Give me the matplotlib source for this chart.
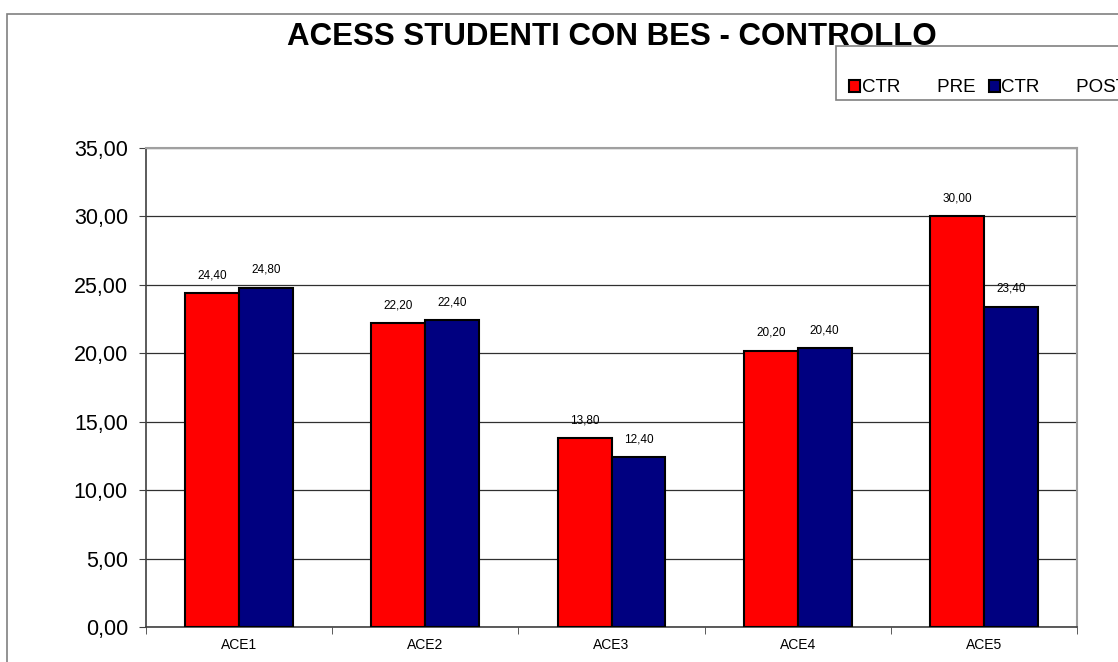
import numpy as np
import matplotlib.pyplot as plt
from matplotlib.patches import Rectangle

plt.rcParams['font.family'] = ['Liberation Sans', 'DejaVu Sans']

categories = ["ACE1", "ACE2", "ACE3", "ACE4", "ACE5"]
ctr_pre = [24.40, 22.20, 13.80, 20.20, 30.00]
ctr_post = [24.80, 22.40, 12.40, 20.40, 23.40]
series_labels = ["CTR       PRE", "CTR       POST"]
title = "ACESS STUDENTI CON BES - CONTROLLO"

W, H = 1118, 662
fig = plt.figure(figsize=(W / 100, H / 100), dpi=100)

# outer chart frame, runs off the right and bottom edges
fig.patches.append(Rectangle((7 / W, -0.1), 1.2, 1 - 14 / H + 0.1,
                             transform=fig.transFigure, fill=False,
                             edgecolor='#808080', linewidth=1.2))

ax = fig.add_axes([146 / W, 1 - 627 / H, (1077 - 146) / W, (627 - 148) / H])

x = np.arange(len(categories))
bw = 0.29
b1 = ax.bar(x - bw / 2, ctr_pre, bw, color='#ff0000', edgecolor='black', linewidth=1.5, zorder=3)
b2 = ax.bar(x + bw / 2, ctr_post, bw, color='#000080', edgecolor='black', linewidth=1.5, zorder=3)

for bars, vals in ((b1, ctr_pre), (b2, ctr_post)):
    for rect, v in zip(bars, vals):
        ax.annotate(f"{v:.2f}".replace('.', ','),
                    (rect.get_x() + rect.get_width() / 2, v),
                    xytext=(0, 8.5), textcoords='offset points',
                    ha='center', va='bottom', fontsize=8.5)

ax.set_xlim(-0.5, len(categories) - 0.5)
ax.set_ylim(0, 35)
ax.set_yticks(np.arange(0, 36, 5))
ax.set_yticklabels([f"{v:.2f}".replace('.', ',') for v in np.arange(0, 36, 5)], fontsize=15.5)
ax.set_xticks(x)
ax.set_xticklabels(categories, fontsize=10)
ax.tick_params(axis='x', length=0, pad=8)
ax.set_xticks(np.arange(-0.5, len(categories)), minor=True)
ax.tick_params(axis='x', which='minor', length=5, direction='out', color='#404040')
ax.tick_params(axis='y', length=5, direction='out', color='#404040', pad=8)
ax.grid(axis='y', color='#303030', linewidth=0.9, zorder=0)

for side in ('left', 'bottom'):
    ax.spines[side].set_color('#404040')
    ax.spines[side].set_linewidth(1.2)
for side in ('top', 'right'):
    ax.spines[side].set_color('#a0a0a0')
    ax.spines[side].set_linewidth(1.5)

# legend box, also clipped by the figure edge
fig.patches.append(Rectangle((836 / W, 1 - 100 / H), 0.3, 54 / H,
                             transform=fig.transFigure, facecolor='white',
                             edgecolor='#808080', linewidth=1.2, zorder=5))
leg = fig.legend([b1, b2], series_labels, loc='center left',
                 bbox_to_anchor=(840 / W, 1 - 88 / H), ncol=2, frameon=False,
                 fontsize=13.5, handlelength=0.55, handleheight=0.55,
                 handletextpad=0.1, columnspacing=0.75, borderpad=0)
leg.set_zorder(6)

# title sits on top of the legend box
fig.text(287 / W, 1 - 37 / H, title, ha='left', va='center',
         fontsize=22.5, fontweight='bold', zorder=10)

fig.savefig("out.png", dpi=100)
